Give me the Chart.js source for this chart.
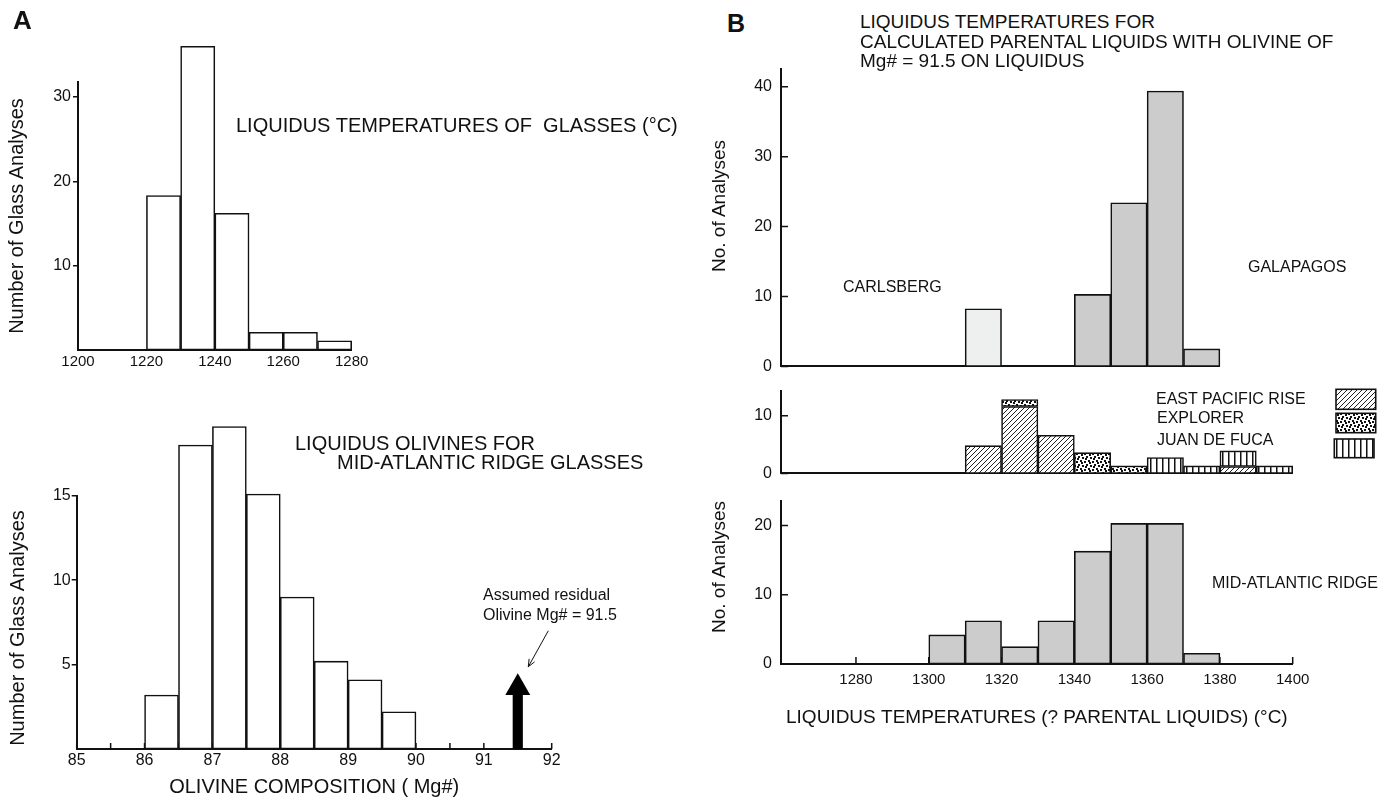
<!DOCTYPE html>
<html>
<head>
<meta charset="utf-8">
<script src="https://cdn.jsdelivr.net/npm/chart.js@4.4.1/dist/chart.umd.min.js"></script>
<style>
  html, body { margin: 0; padding: 0; background: #fff; }
  body { width: 1391px; height: 799px; position: relative; overflow: hidden;
         font-family: "Liberation Sans", Arial, Helvetica, sans-serif; color: #111; }
  .box { position: absolute; }
  .box canvas { display: block; }
  .t { position: absolute; white-space: pre; line-height: 1; transform: translateY(-50%); }
  .v { position: absolute; white-space: pre; line-height: 1; transform: translate(-50%, -50%) rotate(-90deg); }
</style>
</head>
<body>
<div class="box" style="left:0;top:30px"><canvas id="glassChart" width="400" height="345"></canvas></div>
<div class="box" style="left:0;top:415px"><canvas id="olivineChart" width="600" height="384"></canvas></div>
<div class="box" style="left:700px;top:50px"><canvas id="galapagosChart" width="560" height="335"></canvas></div>
<div class="box" style="left:700px;top:372px"><canvas id="pacificChart" width="691" height="120"></canvas></div>
<div class="box" style="left:700px;top:482px"><canvas id="marChart" width="691" height="250"></canvas></div>

<div class="t" style="left:13px;top:20px;font-size:26px;font-weight:bold">A</div>
<div class="t" style="left:236px;top:125px;font-size:20px">LIQUIDUS TEMPERATURES OF  GLASSES (°C)</div>
<div class="v" style="left:16px;top:216px;font-size:20px">Number of Glass Analyses</div>
<div class="t" style="left:295px;top:443px;font-size:20px">LIQUIDUS OLIVINES FOR</div>
<div class="t" style="left:337px;top:462px;font-size:20px">MID-ATLANTIC RIDGE GLASSES</div>
<div class="t" style="left:483px;top:595px;font-size:16px">Assumed residual</div>
<div class="t" style="left:483px;top:615px;font-size:16px">Olivine Mg# = 91.5</div>
<div class="v" style="left:17px;top:628px;font-size:20px">Number of Glass Analyses</div>

<div class="t" style="left:727px;top:23px;font-size:25px;font-weight:bold">B</div>
<div class="t" style="left:860px;top:21px;font-size:19px">LIQUIDUS TEMPERATURES FOR</div>
<div class="t" style="left:860px;top:41px;font-size:19px">CALCULATED PARENTAL LIQUIDS WITH OLIVINE OF</div>
<div class="t" style="left:860px;top:60px;font-size:19px">Mg# = 91.5 ON LIQUIDUS</div>
<div class="v" style="left:718px;top:206px;font-size:19px">No. of Analyses</div>
<div class="t" style="left:843px;top:287px;font-size:16px">CARLSBERG</div>
<div class="t" style="left:1248px;top:267px;font-size:16px">GALAPAGOS</div>
<div class="t" style="left:1156px;top:399px;font-size:16px">EAST PACIFIC RISE</div>
<div class="t" style="left:1157px;top:418px;font-size:16px">EXPLORER</div>
<div class="t" style="left:1157px;top:440px;font-size:16px">JUAN DE FUCA</div>
<div class="v" style="left:718px;top:567px;font-size:19px">No. of Analyses</div>
<div class="t" style="left:1212px;top:583px;font-size:16px">MID-ATLANTIC RIDGE</div>

<script>
// Panel A top: liquidus temperatures of glasses (bin centres, 10 degree bins)
const glassBins = [1225, 1235, 1245, 1255, 1265, 1275];
const glassCounts = [18.3, 36, 16.2, 2.1, 2.1, 1.1];
const glassTicks = [1200, 1220, 1240, 1260, 1280];
const glassYTicks = [10, 20, 30];

// Panel A bottom: liquidus olivines (0.5 Mg# bins)
const olivineBins = [86.25, 86.75, 87.25, 87.75, 88.25, 88.75, 89.25, 89.75];
const olivineCounts = [3.2, 18, 19.1, 15.1, 9, 5.2, 4.1, 2.2];
const olivineTicks = [85, 85.5, 86, 86.5, 87, 87.5, 88, 88.5, 89, 89.5, 90, 90.5, 91, 91.5, 92];
const olivineYTicks = [5, 10, 15];
const residualMg = 91.5;
const residualShaft = 3.2;
const residualHead = 3.63;
const noteFrom = [91.95, 7.0];
const noteTo = [91.655, 4.87];

// Panel B: calculated parental liquids
const tempTicks = [1280, 1300, 1320, 1340, 1360, 1380, 1400];
const carlsbergBins = [1315];
const carlsbergCounts = [8.25];
const galapagosBins = [1345, 1355, 1365, 1375];
const galapagosCounts = [10.3, 23.4, 39.4, 2.5];
const pacificBins = [1315, 1325, 1335, 1345, 1355, 1365, 1375, 1385, 1395];
const eprCounts = [4.8, 11.6, 6.6, null, null, null, null, 1.2, null];
const explorerCounts = [null, 1.2, null, 3.6, 1.3, null, null, null, null];
const jdfCounts = [null, null, null, null, null, 2.75, 1.3, 2.7, 1.3];
const marBins = [1305, 1315, 1325, 1335, 1345, 1355, 1365, 1375];
const marCounts = [4.2, 6.25, 2.5, 6.25, 16.3, 20.3, 20.3, 1.55];

Chart.defaults.font.family = '"Liberation Sans", Arial, Helvetica, sans-serif';
Chart.defaults.color = '#111';
Chart.defaults.animation = false;
Chart.defaults.plugins.legend.display = false;
Chart.defaults.plugins.tooltip.enabled = false;

const points = (xs, ys) => xs.map((x, i) => ({ x: x, y: ys[i] })).filter(p => p.y !== null);
const fixedTicks = values => s => { s.ticks = values.map(v => ({ value: v })); };
const axisBorder = { color: '#111', width: 2 };
const barStyle = {
  borderColor: '#111', borderWidth: 1.6, borderSkipped: false,
  barPercentage: 1, categoryPercentage: 1, grouped: false, clip: false
};

function makePattern(w, h, draw) {
  const c = document.createElement('canvas');
  c.width = w; c.height = h;
  const g = c.getContext('2d');
  g.fillStyle = '#fff';
  g.fillRect(0, 0, w, h);
  draw(g);
  return g.createPattern(c, 'repeat');
}
const hatch = makePattern(5, 5, g => {
  g.strokeStyle = '#222'; g.lineWidth = 1;
  g.beginPath();
  g.moveTo(0, 5); g.lineTo(5, 0);
  g.moveTo(-1, 1); g.lineTo(1, -1);
  g.moveTo(4, 6); g.lineTo(6, 4);
  g.stroke();
});
const dots = makePattern(8, 8, g => {
  g.fillStyle = '#111';
  [[0, 1], [4, 0], [2, 4], [6, 5], [5, 2], [1, 6]].forEach(d => g.fillRect(d[0], d[1], 2, 2));
});
const stripes = makePattern(6, 6, g => {
  g.fillStyle = '#111';
  g.fillRect(0, 0, 1.5, 6);
});

// short tick marks pointing into the plot
const innerTicks = {
  id: 'innerTicks',
  beforeDatasetsDraw(chart, args, opts) {
    const ctx = chart.ctx;
    ctx.save();
    ctx.strokeStyle = '#111';
    ctx.lineWidth = 1.5;
    ['x', 'y'].forEach(id => {
      const len = opts[id];
      if (!len) return;
      const s = chart.scales[id];
      ctx.beginPath();
      s.ticks.forEach(t => {
        const p = s.getPixelForValue(t.value);
        if (id === 'x') { ctx.moveTo(p, s.top); ctx.lineTo(p, s.top - len); }
        else { ctx.moveTo(s.right, p); ctx.lineTo(s.right + len, p); }
      });
      ctx.stroke();
    });
    ctx.restore();
  }
};

// thin pointer from the note to the residual olivine arrow
const noteArrow = {
  id: 'noteArrow',
  afterDatasetsDraw(chart, args, opts) {
    if (!opts.from) return;
    const { ctx, scales: { x, y } } = chart;
    const x0 = x.getPixelForValue(opts.from[0]), y0 = y.getPixelForValue(opts.from[1]);
    const x1 = x.getPixelForValue(opts.to[0]), y1 = y.getPixelForValue(opts.to[1]);
    const a = Math.atan2(y1 - y0, x1 - x0);
    ctx.save();
    ctx.strokeStyle = '#111';
    ctx.lineWidth = 1;
    ctx.beginPath();
    ctx.moveTo(x0, y0); ctx.lineTo(x1, y1);
    ctx.moveTo(x1 - 8 * Math.cos(a - 0.4), y1 - 8 * Math.sin(a - 0.4));
    ctx.lineTo(x1, y1);
    ctx.lineTo(x1 - 8 * Math.cos(a + 0.4), y1 - 8 * Math.sin(a + 0.4));
    ctx.stroke();
    ctx.restore();
  }
};

// pattern keys for the Pacific panel
const legendBoxes = {
  id: 'legendBoxes',
  afterDraw(chart, args, opts) {
    if (!opts.boxes) return;
    const ctx = chart.ctx;
    chart.data.datasets.forEach((ds, i) => {
      const b = opts.boxes[i];
      ctx.save();
      ctx.fillStyle = ds.backgroundColor;
      ctx.fillRect(b[0], b[1], b[2], b[3]);
      ctx.strokeStyle = '#111';
      ctx.lineWidth = 1.6;
      ctx.strokeRect(b[0], b[1], b[2], b[3]);
      ctx.restore();
    });
  }
};

function xAxis(min, max, ticks, height, extra) {
  return Object.assign({
    type: 'linear', min: min, max: max, offset: false,
    afterBuildTicks: fixedTicks(ticks),
    afterFit: s => { s.height = height; },
    grid: { display: false, drawTicks: false, offset: false },
    border: axisBorder,
    ticks: { font: { size: 15 }, padding: 3, maxRotation: 0, autoSkip: false, callback: v => String(v) }
  }, extra || {});
}
function yAxis(max, ticks, width, extra) {
  return Object.assign({
    min: 0, max: max,
    afterBuildTicks: fixedTicks(ticks),
    afterFit: s => { s.width = width; },
    grid: { display: false, drawTicks: false },
    border: axisBorder,
    ticks: { font: { size: 16 }, padding: 9, callback: v => String(v) }
  }, extra || {});
}
const outerYGrid = { display: true, drawOnChartArea: false, drawTicks: true, tickLength: 5, color: '#111', lineWidth: 1.5 };

// Panel A top
new Chart(document.getElementById('glassChart'), {
  type: 'bar',
  data: { datasets: [{ ...barStyle, data: points(glassBins, glassCounts), backgroundColor: '#fff' }] },
  options: {
    responsive: false,
    layout: { padding: { left: 0, top: 51.7, right: 48.3, bottom: 0 } },
    scales: {
      x: xAxis(1200, 1280, glassTicks, 25),
      y: yAxis(31.8, glassYTicks, 78, {
        grid: outerYGrid,
        ticks: { font: { size: 16 }, padding: 2, callback: v => String(v) }
      })
    }
  }
});

// Panel A bottom
new Chart(document.getElementById('olivineChart'), {
  type: 'bar',
  data: {
    datasets: [
      { ...barStyle, data: points(olivineBins, olivineCounts), backgroundColor: '#fff' },
      { ...barStyle, data: [{ x: residualMg, y: residualShaft }], backgroundColor: '#000',
        borderWidth: 0, barPercentage: 0.3 },
      { type: 'scatter', data: [{ x: residualMg, y: residualHead }], pointStyle: 'triangle',
        pointRadius: 14.4, pointBackgroundColor: '#000', pointBorderWidth: 0 }
    ]
  },
  options: {
    responsive: false,
    layout: { padding: { left: 0, top: 80.7, right: 48.3, bottom: 0 } },
    plugins: { innerTicks: { x: 6 }, noteArrow: { from: noteFrom, to: noteTo } },
    scales: {
      x: xAxis(85, 92, olivineTicks, 50, {
        ticks: { font: { size: 16 }, padding: 2, maxRotation: 0, autoSkip: false,
                 callback: v => Number.isInteger(v) ? String(v) : '' },
        title: { display: true, text: 'OLIVINE COMPOSITION ( Mg#)', font: { size: 20 },
                 color: '#111', padding: { top: 0, bottom: 0 } }
      }),
      y: yAxis(15, olivineYTicks, 76.7, {
        grid: outerYGrid,
        ticks: { font: { size: 16 }, padding: 1, callback: v => String(v) }
      })
    }
  },
  plugins: [innerTicks, noteArrow]
});

const tempMin = 1259.4;

// Panel B top: Carlsberg and Galapagos
new Chart(document.getElementById('galapagosChart'), {
  type: 'bar',
  data: {
    datasets: [
      { ...barStyle, data: points(carlsbergBins, carlsbergCounts), backgroundColor: '#eef0ef' },
      { ...barStyle, data: points(galapagosBins, galapagosCounts), backgroundColor: '#cccccc' }
    ]
  },
  options: {
    responsive: false,
    layout: { padding: { left: 0, top: 11.7, right: 40.1, bottom: 0 } },
    plugins: { innerTicks: { y: 7 } },
    scales: {
      x: xAxis(tempMin, 1380, tempTicks, 13.3, { ticks: { display: false } }),
      y: yAxis(42.6, [0, 10, 20, 30, 40], 81)
    }
  },
  plugins: [innerTicks]
});

// Panel B middle: East Pacific Rise, Explorer, Juan de Fuca
new Chart(document.getElementById('pacificChart'), {
  type: 'bar',
  data: {
    datasets: [
      { ...barStyle, label: 'EAST PACIFIC RISE', data: points(pacificBins, eprCounts), backgroundColor: hatch },
      { ...barStyle, label: 'EXPLORER', data: points(pacificBins, explorerCounts), backgroundColor: dots },
      { ...barStyle, label: 'JUAN DE FUCA', data: points(pacificBins, jdfCounts), backgroundColor: stripes }
    ]
  },
  options: {
    responsive: false,
    layout: { padding: { left: 0, top: 10.7, right: 98.3, bottom: 0 } },
    plugins: {
      innerTicks: { y: 7 },
      legendBoxes: { boxes: [[636, 17.3, 39.7, 20], [636, 41.3, 39.7, 19.4], [634.3, 67, 39.7, 18.7]] }
    },
    scales: {
      x: xAxis(tempMin, 1400, tempTicks, 10.3, { stacked: true, ticks: { display: false } }),
      y: yAxis(14.35, [0, 10], 81, { stacked: true })
    }
  },
  plugins: [innerTicks, legendBoxes]
});

// Panel B bottom: Mid-Atlantic Ridge
new Chart(document.getElementById('marChart'), {
  type: 'bar',
  data: { datasets: [{ ...barStyle, data: points(marBins, marCounts), backgroundColor: '#cccccc' }] },
  options: {
    responsive: false,
    layout: { padding: { left: 0, top: 10.7, right: 98.3, bottom: 0 } },
    plugins: { innerTicks: { x: 7, y: 7 } },
    scales: {
      x: xAxis(tempMin, 1400, tempTicks, 68, {
        ticks: { font: { size: 15 }, padding: 7, maxRotation: 0, autoSkip: false, callback: v => String(v) },
        title: { display: true, text: 'LIQUIDUS TEMPERATURES (? PARENTAL LIQUIDS) (°C)', font: { size: 19 },
                 color: '#111', padding: { top: 0, bottom: 3.3 } }
      }),
      y: yAxis(23.6, [0, 10, 20], 81)
    }
  },
  plugins: [innerTicks]
});
</script>
</body>
</html>
